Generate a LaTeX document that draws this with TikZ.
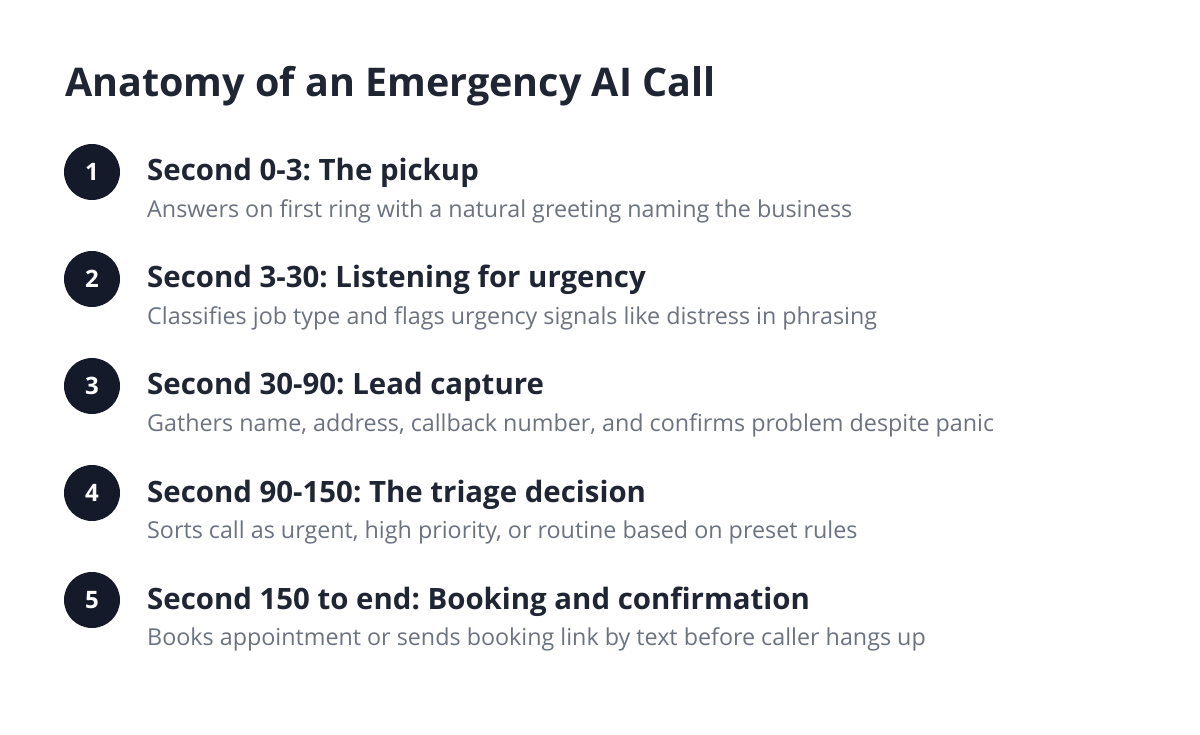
\documentclass[tikz,border=0pt]{standalone}
\usepackage{fontspec}
\setmainfont{Open Sans}
\frenchspacing
\definecolor{navy}{HTML}{151A2B}
\definecolor{ink}{HTML}{1F2533}
\definecolor{gray}{HTML}{6B7280}
\begin{document}
\begin{tikzpicture}[x=1pt,y=-1pt,
  num/.style={circle,fill=navy,minimum size=56pt,inner sep=0pt,text=white,font=\fontsize{24}{28}\selectfont\bfseries},
  head/.style={anchor=base west,inner sep=0pt,text=ink,font=\fontsize{29.4}{33}\selectfont\bfseries},
  desc/.style={anchor=base west,inner sep=0pt,text=gray,font=\fontsize{23.3}{27}\selectfont}]
\useasboundingbox[fill=white] (0,0) rectangle (1200,735);
\node[anchor=base west,inner sep=0pt,text=ink,font=\fontsize{39.5}{44}\selectfont\bfseries] (title) at (65,97) {Anatomy of an Emergency AI Call};
\foreach \i/\h/\d in {1/{Second 0-3: The pickup}/{Answers on first ring with a natural greeting naming the business},
 2/{Second 3-30: Listening for urgency}/{Classifies job type and flags urgency signals like distress in phrasing},
 3/{Second 30-90: Lead capture}/{Gathers name, address, callback number, and confirms problem despite panic},
 4/{Second 90-150: The triage decision}/{Sorts call as urgent, high priority, or routine based on preset rules},
 5/{Second 150 to end: Booking and confirmation}/{Books appointment or sends booking link by text before caller hangs up}}{
  \pgfmathsetmacro{\yy}{172+107*(\i-1)}
  \node[num] (n\i) at (92,\yy) {\i};
  \node[head] (h\i) at (147,\yy+9) {\h};
  \node[desc] (d\i) at (147,\yy+45.5) {\d};
}
\end{tikzpicture}
\end{document}
